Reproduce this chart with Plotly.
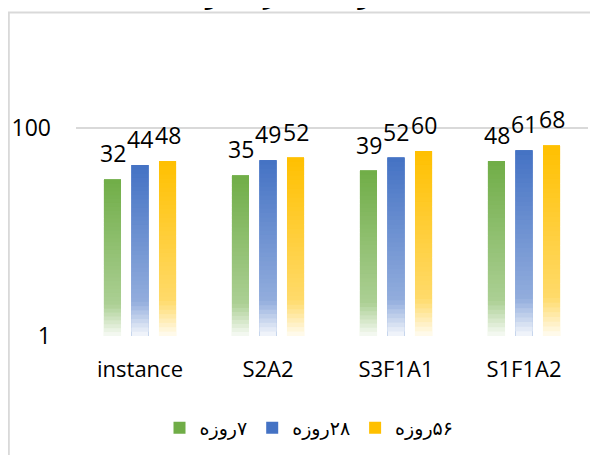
import numpy as np
import plotly.graph_objects as go

# data
categories = ["instance", "S2A2", "S3F1A1", "S1F1A2"]
series_names = ["\u200f۷روزه", "\u200f۲۸روزه", "\u200f۵۶روزه"]
day7 = [32, 35, 39, 48]
day28 = [44, 49, 52, 61]
day56 = [48, 52, 60, 68]
series_values = [day7, day28, day56]
series_colors = [(112, 173, 71), (68, 114, 196), (255, 192, 0)]
y_ticks = [1, 100]
title_text = "مقاومت فشاری نمونه ها"

# page body has an 8px margin, so the figure is laid out in page pixels minus 8
OFF = 8
W, H = 598 - OFF, 455 - OFF
L, R, T, B = 76 - OFF, W - (588 - OFF), 30 - OFF, H - (336 - OFF)
plot_w = W - L - R
plot_h = H - T - B

FONT = "Open Sans, DejaVu Sans, sans-serif"
N_SEG = 40


def fade(rgb, t):
    # t = 0 at bar top, 1 at bar bottom (Excel style gradient fill)
    if t < 0.8:
        w = 0.42 * t / 0.8
    else:
        w = 0.42 + (0.95 - 0.42) * (t - 0.8) / 0.2
    r, g, b = (int(round(c + (255 - c) * w)) for c in rgb)
    return f"rgb({r},{g},{b})"


fig = go.Figure()
for k, (name, vals, col) in enumerate(zip(series_names, series_values, series_colors)):
    logs = np.log10(vals)
    # legend entry / hover trace carrying the full values
    fig.add_trace(go.Bar(
        x=categories, y=vals, name=name, offsetgroup=str(k),
        marker=dict(color=fade(col, 0.0), line=dict(width=0)),
        hoverinfo="x+y", legendgroup=str(k),
    ))
    # gradient segments drawn over it, bottom to top; each one reaches into
    # the next so that no seams show between them
    for j in range(N_SEG):
        lo = 10 ** (logs * j / N_SEG)
        hi = 10 ** (logs * min(j + 2, N_SEG) / N_SEG)
        t = 1 - (j + 0.5) / N_SEG
        fig.add_trace(go.Bar(
            x=categories, y=hi - lo, base=lo, offsetgroup=str(k),
            marker=dict(color=fade(col, t), line=dict(width=0)),
            hoverinfo="skip", showlegend=False, legendgroup=str(k),
        ))

# data labels above the bars
slot = 27.5
for i, vals in enumerate(series_values):
    for cat, v in zip(categories, vals):
        fig.add_annotation(
            x=cat, y=np.log10(v), text=str(v), showarrow=False,
            xshift=(i - 1) * slot, yshift=26, yanchor="middle",
            font=dict(family=FONT, size=23, color="#000000"),
        )

# chart area border
fig.add_shape(
    type="rect", xref="paper", yref="paper",
    x0=(0.9 - L) / plot_w, x1=(W + 5 - L) / plot_w,
    y0=(T + plot_h - (H + 5)) / plot_h, y1=(T + plot_h - (12.5 - OFF)) / plot_h,
    line=dict(color="#D9D9D9", width=1.8), fillcolor="rgba(0,0,0,0)",
    layer="below",
)

# title, mostly above the visible area as in the reference
fig.add_annotation(
    xref="paper", yref="paper", x=0.4, y=(T + plot_h + 13) / plot_h,
    text=title_text, showarrow=False, yanchor="middle",
    font=dict(family=FONT, size=24, color="#000000"),
)

fig.update_layout(
    width=W, height=H,
    margin=dict(l=L, r=R, t=T, b=B, autoexpand=False),
    paper_bgcolor="white", plot_bgcolor="white",
    barmode="group", bargap=0.355, bargroupgap=0.38,
    font=dict(family=FONT, size=22, color="#000000"),
    showlegend=True,
    legend=dict(
        orientation="h", xref="container", x=(309 - OFF) / W, xanchor="center",
        yref="container", y=1 - (428 - OFF) / H, yanchor="middle",
        font=dict(family=FONT, size=19, color="#000000"),
        itemwidth=30, traceorder="normal",
    ),
)
fig.update_xaxes(
    showgrid=False, showline=False, ticks="", automargin=False,
    tickfont=dict(family=FONT, size=22, color="#000000"),
    ticklabelstandoff=18,
)
fig.update_yaxes(
    type="log", range=[0, plot_h / 104.0], automargin=False,
    tickvals=y_ticks, ticktext=[str(t) for t in y_ticks],
    showgrid=True, gridcolor="#D9D9D9", gridwidth=1.5,
    showline=False, zeroline=False, ticks="",
    tickfont=dict(family=FONT, size=23, color="#000000"),
    ticklabelstandoff=24,
)

fig.write_html("out.html")
